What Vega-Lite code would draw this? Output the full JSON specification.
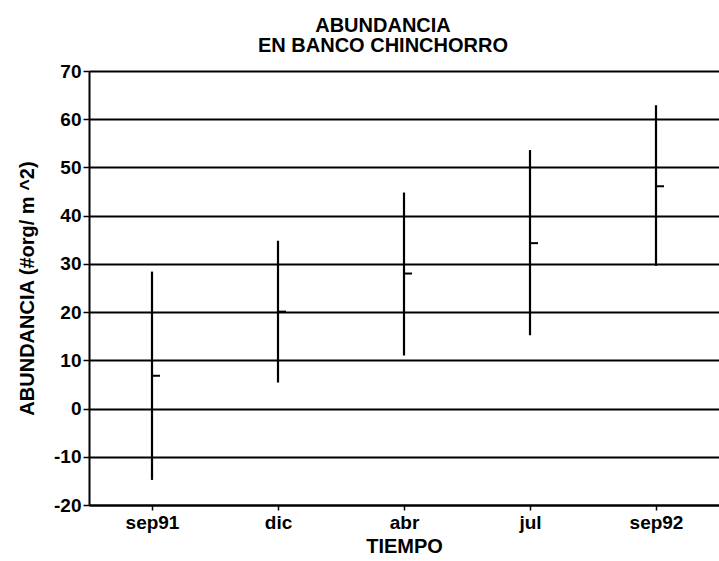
{
  "$schema": "https://vega.github.io/schema/vega-lite/v6.json",
  "autosize": "none",
  "padding": {"left": 89, "top": 71, "right": 0, "bottom": 56},
  "width": 630,
  "height": 434,
  "background": "white",
  "title": {
    "text": ["ABUNDANCIA", "EN BANCO CHINCHORRO"],
    "anchor": "middle",
    "dx": -21,
    "offset": 6,
    "font": "Liberation Sans",
    "fontSize": 20,
    "fontWeight": "bold",
    "color": "black",
    "lineHeight": 20
  },
  "config": {
    "view": {"stroke": null},
    "axis": {
      "labelFont": "Liberation Sans",
      "labelFontSize": 19,
      "labelFontWeight": "bold",
      "labelColor": "black",
      "titleFont": "Liberation Sans",
      "titleFontSize": 20,
      "titleFontWeight": "bold",
      "titleColor": "black",
      "domainColor": "black",
      "domainWidth": 2,
      "tickColor": "black",
      "tickWidth": 1.5
    }
  },
  "data": {
    "values": [
      {"tiempo": "sep91", "lo": -14.8, "hi": 28.4, "media": 6.8},
      {"tiempo": "dic", "lo": 5.4, "hi": 34.8, "media": 20.1},
      {"tiempo": "abr", "lo": 11.0, "hi": 44.8, "media": 28.0},
      {"tiempo": "jul", "lo": 15.2, "hi": 53.6, "media": 34.3},
      {"tiempo": "sep92", "lo": 29.6, "hi": 62.9, "media": 46.1}
    ]
  },
  "encoding": {
    "x": {
      "field": "tiempo",
      "type": "nominal",
      "sort": ["sep91", "dic", "abr", "jul", "sep92"],
      "scale": {"type": "point", "padding": 0.5},
      "axis": {
        "title": "TIEMPO",
        "labelAngle": 0,
        "tickSize": 5,
        "labelPadding": 3,
        "titlePadding": 4,
        "grid": false
      }
    }
  },
  "layer": [
    {
      "mark": {"type": "rule", "color": "black", "strokeWidth": 2.2},
      "encoding": {
        "y": {
          "field": "lo",
          "type": "quantitative",
          "scale": {"domain": [-20, 70], "nice": false, "zero": false},
          "axis": {
            "title": "ABUNDANCIA (#org/ m ^2)",
            "values": [-20, -10, 0, 10, 20, 30, 40, 50, 60, 70],
            "labelExpr": "'' + datum.value",
            "grid": true,
            "gridColor": "black",
            "gridWidth": 1.8,
            "gridOpacity": 1,
            "tickSize": 6,
            "labelPadding": 2,
            "titlePadding": 16
          }
        },
        "y2": {"field": "hi"}
      }
    },
    {
      "mark": {"type": "tick", "color": "black", "opacity": 1, "orient": "horizontal", "size": 8, "thickness": 2, "xOffset": 4},
      "encoding": {
        "y": {"field": "media", "type": "quantitative"}
      }
    }
  ]
}
